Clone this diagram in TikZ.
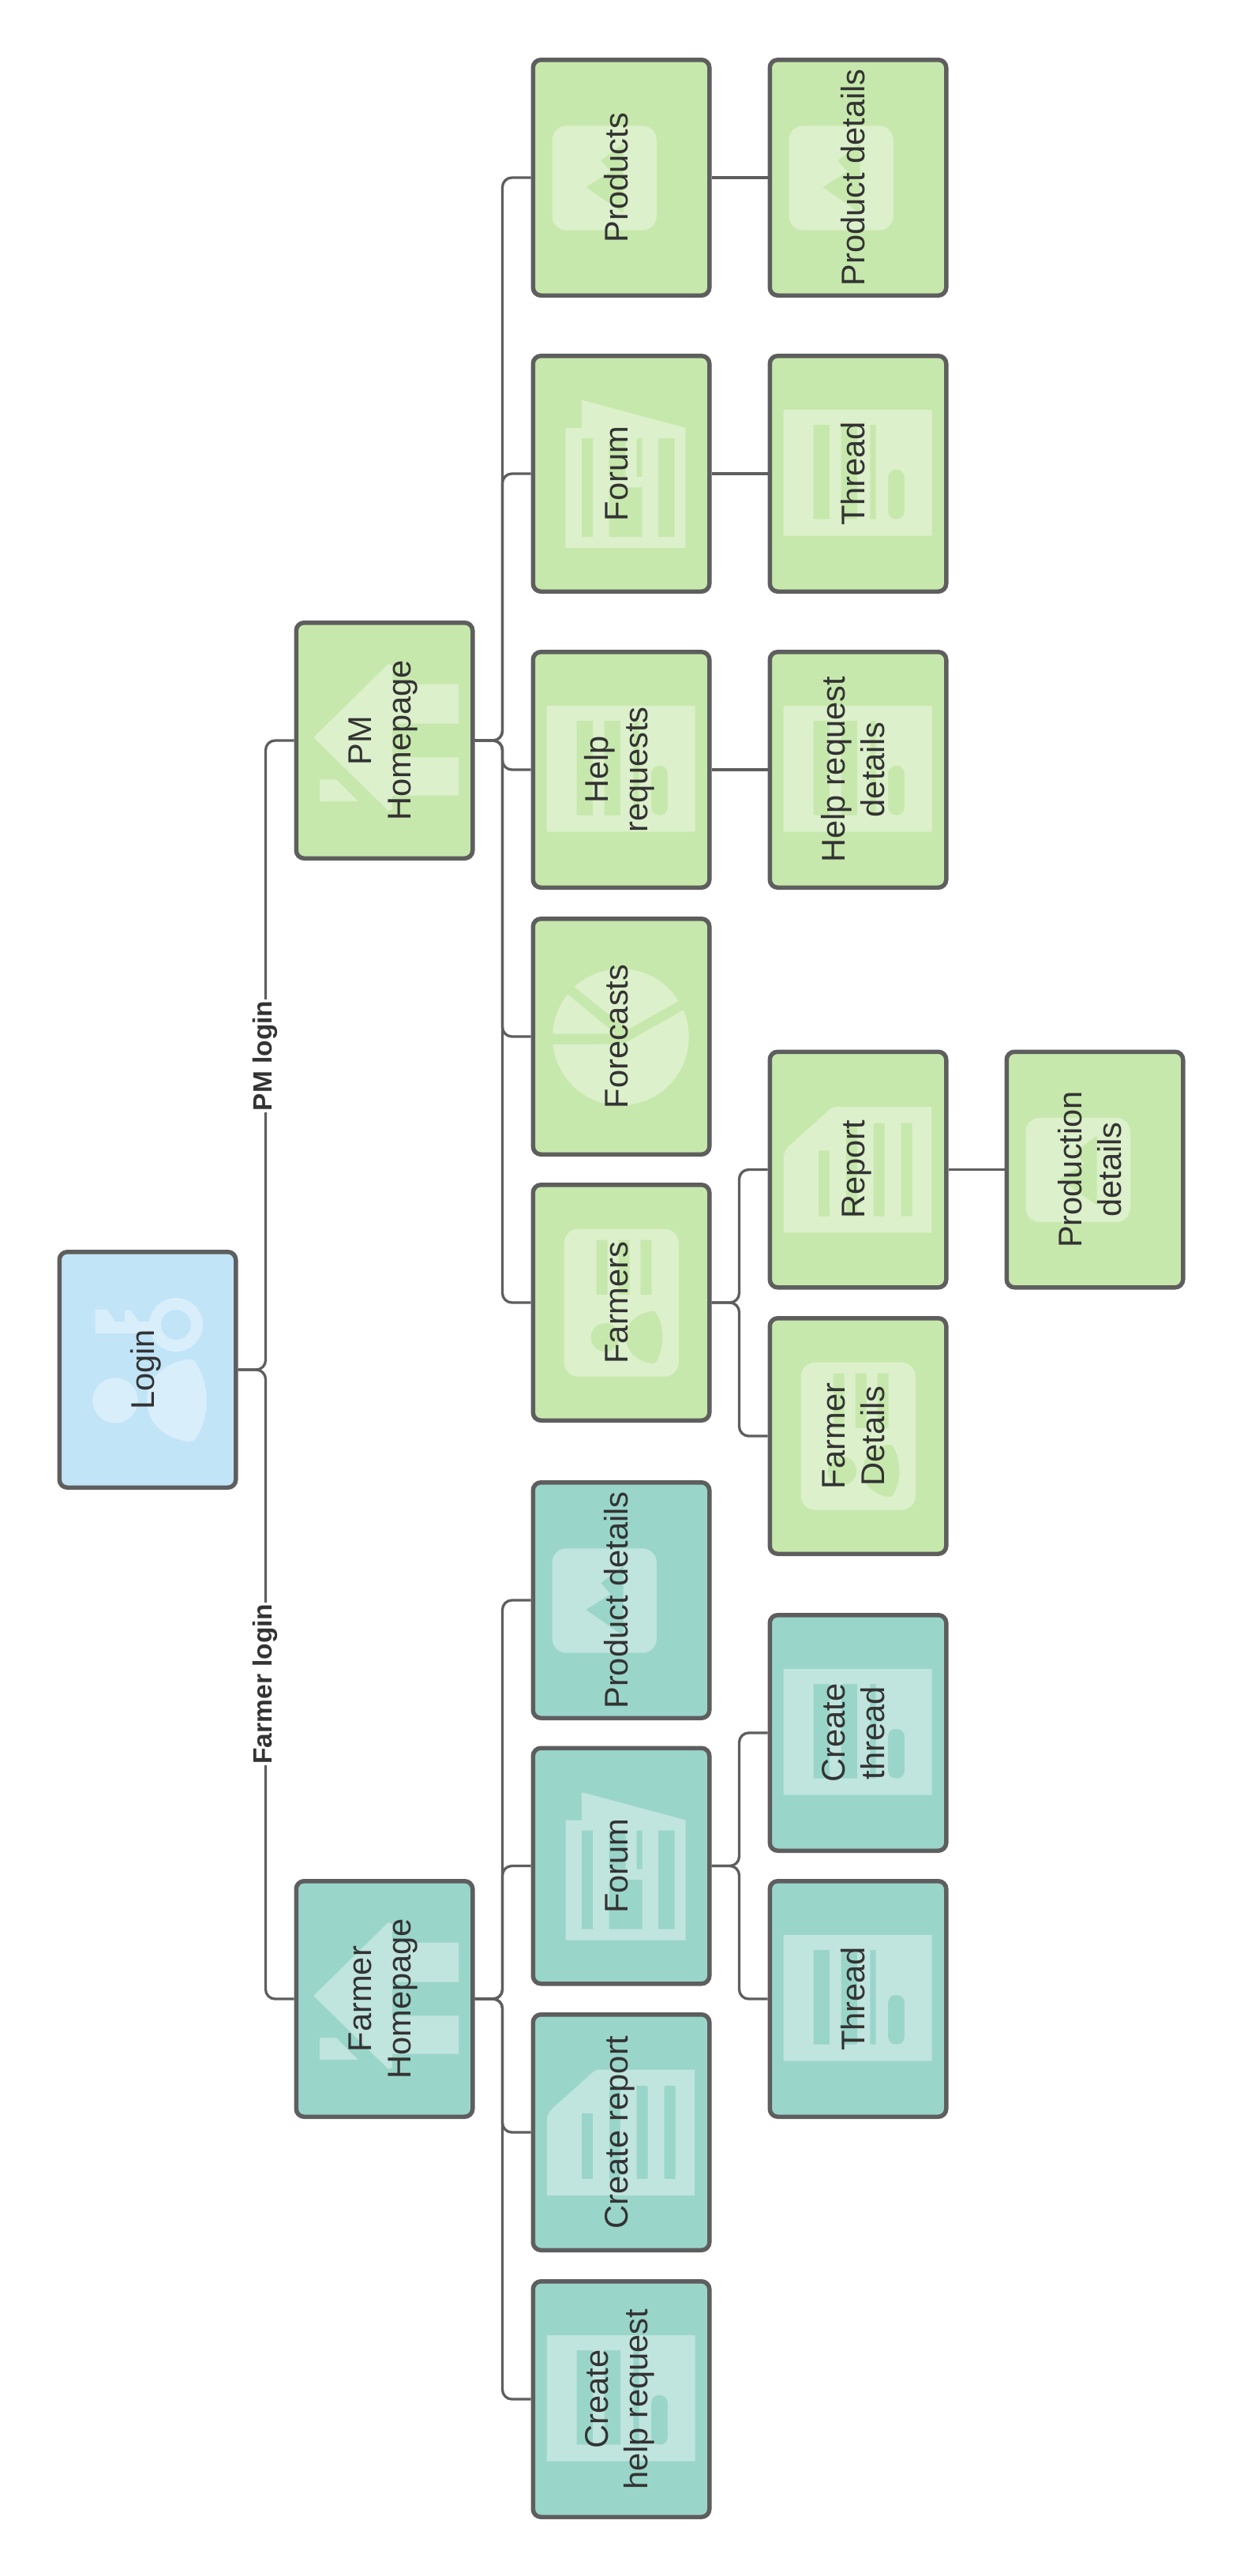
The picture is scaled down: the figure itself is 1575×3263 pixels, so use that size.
\documentclass[tikz,border=0pt]{standalone}
\usepackage{fontspec}
\usepackage{graphicx}
\setmainfont{Liberation Sans}

\definecolor{greenfill}{HTML}{C7E8AC}
\definecolor{tealfill}{HTML}{9AD5CA}
\definecolor{bluefill}{HTML}{C1E4F7}
\definecolor{linegray}{HTML}{5E5E5E}
\definecolor{textgray}{HTML}{333333}

\tikzset{
  screen/.style={draw=linegray,line width=5.5pt,rounded corners=10pt,
    minimum width=223.5pt,minimum height=298.5pt,inner sep=0pt,text=textgray,
    font=\fontsize{41.6}{50}\selectfont},
  glyph/.style={fill=white,fill opacity=.38,even odd rule},
  link/.style={draw=linegray,line width=3.3pt,rounded corners=12pt},
  loginlabel/.style={rotate=90,fill=white,inner sep=2pt,text=textgray,
    font=\fontsize{33.5}{40}\selectfont\bfseries}
}

% fill, icon, name, position, text
\newcommand{\screenbox}[5]{
  \begin{scope}[shift={(#4)}]
    \fill[#1,rounded corners=10pt] (-111.75,-149.25) rectangle (111.75,149.25);
    #2
  \end{scope}
  \node[screen] (#3) at (#4) {\rotatebox{90}{\begin{tabular}{@{}c@{}}#5\end{tabular}}\hspace*{4pt}};
}

% icons, in pixels from the centre of the box
\newcommand{\loginicon}{
  \fill[glyph] (-41,39) circle (28.7);
  \fill[glyph] (36,-57) circle (34) (36,-57) circle (19);
  \fill[glyph] (-66.5,-76.3) -- (-51.8,-76.3) -- (-40.8,-61) -- (-29.2,-61) -- (-29.2,-75.7) -- (-21.5,-75.7)
    -- (-11.5,-61) -- (2.5,-61) -- (2.5,-46) -- (-66.5,-46) -- cycle;
  \fill[glyph] (52,-13) .. controls (58,-13) and (60,-11) .. (62,-8) .. controls (70,6) and (75,22) .. (75,39)
    .. controls (75,56) and (70,72) .. (62,86) .. controls (60,89) and (58,91) .. (52,91)
    .. controls (25,88) and (-1,70) .. (-1,39) .. controls (-1,8) and (25,-10) .. (52,-13) -- cycle;
}
\newcommand{\homeicon}{
  \fill[glyph] (-89.7,-4) -- (5,-97) -- (9.8,-95) -- (9.8,-71.3) -- (94,-71.3) -- (94,-21.3) -- (9.8,-21.3)
    -- (9.8,21.3) -- (94,21.3) -- (94,69.7) -- (9.8,69.7) -- (9.8,87) -- (5,89) -- cycle;
  \fill[glyph] (-82,49.3) -- (-61,49.3) -- (-33.4,77) -- (-82,77) -- cycle;
}
\newcommand{\producticon}{
  \fill[glyph] [rounded corners=18pt] (-87.5,-65.7) rectangle (44.8,66.7)
    [sharp corners] (-44.8,12) -- (-13.5,-7.7) -- (-25.8,-21.7) -- (2.5,-43.3) -- (2.5,45) -- cycle;
}
\newcommand{\buildingicon}{
  \fill[glyph] (-70.5,-58) -- (-49.8,-58) -- (-49.8,-93.3) -- (81.5,-58) -- (81.5,94) -- (-70.5,94) -- cycle
    (-49.8,-45) rectangle (-35.8,80)
    (-15.5,17.3) rectangle (26.5,80)
    (-15.5,-45) rectangle (5.5,4)
    (19.5,-45) rectangle (26.5,4)
    (46.8,-45) rectangle (67.5,80);
}
\newcommand{\threadicon}{
  \fill[glyph] (-94.4,-81) rectangle (93.6,78.5)
    (-56.5,-62) rectangle (-35.8,57.5)
    (-21.5,-62) rectangle (-1,57.5)
    (15.4,-62) rectangle (22.5,57.5)
    [rounded corners=9pt] (38.2,-5) rectangle (58.8,57.5);
}
\newcommand{\pieicon}{
  \fill[glyph] (-59.2,-63) arc[start angle=-132.7,end angle=-31.9,radius=86.4] -- (8.2,-8.7) -- cycle;
  \fill[glyph] (-86.8,-3.7) arc[start angle=-177.1,end angle=-141.2,radius=86.4] -- (-7.5,-3.7) -- cycle;
  \fill[glyph] (78.5,-33.7) arc[start angle=-23.5,end angle=174,radius=86.4] -- (2.5,9.7) -- cycle;
}
\newcommand{\cardicon}{
  \fill[glyph] [rounded corners=18pt] (-72.5,-93.3) rectangle (72.8,93.7)
    [sharp corners]
    (-31.5,-79.3) rectangle (-17.5,-10)
    (-3.5,-79.3) rectangle (10.5,-10)
    (24.5,-79.3) rectangle (38.5,-10)
    (-20.2,44) circle (18.3)
    (39.2,10.7) .. controls (42,10.7) and (44,12) .. (45,14) .. controls (50,23) and (52.5,33) .. (52.5,44)
    .. controls (52.5,55) and (50,65) .. (45,74) .. controls (44,76) and (42,77.3) .. (39.2,77.3)
    .. controls (22,75) and (5.8,64) .. (5.8,44) .. controls (5.8,24) and (22,13) .. (39.2,10.7) -- cycle;
}
\newcommand{\reporticon}{
  \fill[glyph] (93.2,-79.5) -- (93.2,79.8) -- (-94.2,79.8) -- (-94.2,-14.8) .. controls (-94.2,-22) and (-91,-27) .. (-85.8,-31.5)
    -- (-37.5,-74.8) .. controls (-34,-78) and (-31,-79.5) .. (-27.5,-79.5) -- cycle
    (-49.8,-24.2) rectangle (-35.8,59.2)
    (-15.2,-58.8) rectangle (-1.2,59.2)
    (19.5,-58.8) rectangle (33.5,59.2)
    (54.5,-58.8) rectangle (68.5,59.2);
}

\begin{document}
\begin{tikzpicture}[x=1pt,y=-1pt]
\useasboundingbox (0,0) rectangle (1575,3263);

\screenbox{bluefill}{\loginicon}{login}{187,1735}{Login}

\screenbox{greenfill}{\homeicon}{pmhome}{487,938}{PM\\Homepage}
\screenbox{tealfill}{\homeicon}{farmerhome}{487,2532}{Farmer\\Homepage}

% pm side
\screenbox{greenfill}{\producticon}{products}{787,225}{Products}
\screenbox{greenfill}{\buildingicon}{pmforum}{787,600}{Forum}
\screenbox{greenfill}{\threadicon}{helpreq}{787,975}{Help\\requests}
\screenbox{greenfill}{\pieicon}{forecasts}{787,1313}{Forecasts}
\screenbox{greenfill}{\cardicon}{farmers}{787,1650}{Farmers}

\screenbox{greenfill}{\producticon}{pmproduct}{1087,225}{Product details}
\screenbox{greenfill}{\threadicon}{pmthread}{1087,600}{Thread}
\screenbox{greenfill}{\threadicon}{helpdetails}{1087,975}{Help request\\details}
\screenbox{greenfill}{\reporticon}{report}{1087,1481.5}{Report}
\screenbox{greenfill}{\cardicon}{farmerdetails}{1087,1819}{Farmer\\Details}
\screenbox{greenfill}{\producticon}{production}{1387,1481.5}{Production\\details}

% farmer side
\screenbox{tealfill}{\producticon}{farmerproduct}{787,2027}{Product details}
\screenbox{tealfill}{\buildingicon}{farmerforum}{787,2363.5}{Forum}
\screenbox{tealfill}{\reporticon}{createreport}{787,2701}{Create report}
\screenbox{tealfill}{\threadicon}{createhelp}{787,3039}{Create\\help request}

\screenbox{tealfill}{\threadicon}{createthread}{1087,2195}{Create\\thread}
\screenbox{tealfill}{\threadicon}{farmerthread}{1087,2532}{Thread}

\foreach \a/\b in {login/pmhome,login/farmerhome,
    pmhome/products,pmhome/pmforum,pmhome/helpreq,pmhome/forecasts,pmhome/farmers,
    farmers/report,farmers/farmerdetails,
    farmerhome/farmerproduct,farmerhome/farmerforum,farmerhome/createreport,farmerhome/createhelp,
    farmerforum/createthread,farmerforum/farmerthread}
  \draw[link] (\a.east) -- ++(35,0) |- (\b.west);

\foreach \a/\b in {products/pmproduct,pmforum/pmthread,helpreq/helpdetails,report/production}
  \draw[link] (\a) -- (\b);

\node[loginlabel] (pmlogin) at (336,1337.5) {PM login};
\node[loginlabel] (farmerlogin) at (336,2133) {Farmer login};

\end{tikzpicture}
\end{document}
